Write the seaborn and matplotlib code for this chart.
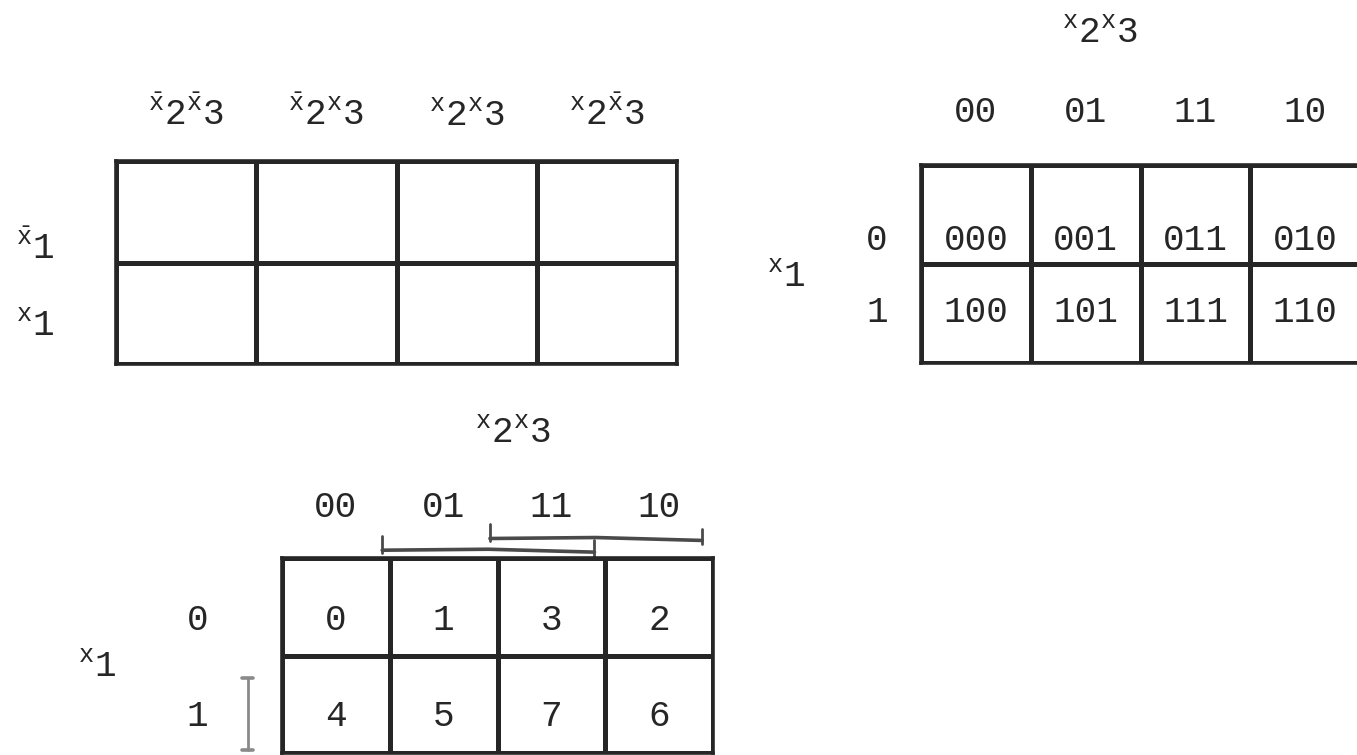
import numpy as np
import matplotlib
matplotlib.use("Agg")
import matplotlib.pyplot as plt
from matplotlib.colors import ListedColormap
import seaborn as sns

# --- data -------------------------------------------------------------
km1_cols = [r"$^{\bar{\mathrm{x}}}2^{\bar{\mathrm{x}}}3$",
            r"$^{\bar{\mathrm{x}}}2^{\mathrm{x}}3$",
            r"$^{\mathrm{x}}2^{\mathrm{x}}3$",
            r"$^{\mathrm{x}}2^{\bar{\mathrm{x}}}3$"]
km1_rows = [r"$^{\bar{\mathrm{x}}}1$", r"$^{\mathrm{x}}1$"]

gray_cols = ["00", "01", "11", "10"]
gray_rows = ["0", "1"]

km2_cells = [["000", "001", "011", "010"],
             ["100", "101", "111", "110"]]
km3_cells = [["0", "1", "3", "2"],
             ["4", "5", "7", "6"]]

# column groups marked over map 3 (x3: 01,11 / x2: 11,10) and row group (x1)
col_groups = [(1, 2), (2, 3)]
row_groups = [1]

var_cols = r"$^{\mathrm{x}}2^{\mathrm{x}}3$"
var_row = r"$^{\mathrm{x}}1$"

# --- style ------------------------------------------------------------
W, H = 1357, 755
ink = "#262626"
sns.set_theme(style="white")
plt.rcParams["font.family"] = ["Liberation Mono", "DejaVu Sans"]
plt.rcParams["mathtext.fontset"] = "custom"
plt.rcParams["mathtext.rm"] = "Liberation Mono"
plt.rcParams["mathtext.it"] = "Liberation Mono"
plt.rcParams["mathtext.bf"] = "Liberation Mono:bold"
plt.rcParams["mathtext.default"] = "rm"
fs = 26

fig = plt.figure(figsize=(W / 100, H / 100), dpi=100)
fig.patch.set_facecolor("white")


def px_axes(x0, y0, x1, y1):
    return fig.add_axes([x0 / W, 1 - y1 / H, (x1 - x0) / W, (y1 - y0) / H])


def kmap(ax, cols, rows, ypos, xpad, ypad):
    blank = np.zeros((len(rows), len(cols)))
    sns.heatmap(blank, cmap=ListedColormap(["white"]), cbar=False,
                linewidths=2.2, linecolor=ink, xticklabels=cols,
                yticklabels=rows, ax=ax)
    ax.xaxis.tick_top()
    ax.set_yticks(ypos)
    ax.set_yticklabels(rows, rotation=0)
    ax.tick_params(axis="x", length=0, pad=xpad, labelsize=fs, colors=ink)
    ax.tick_params(axis="y", length=0, pad=ypad, labelsize=fs, colors=ink)
    for sp in ax.spines.values():
        sp.set_visible(True)
        sp.set_linewidth(2.6)
        sp.set_color(ink)


# map 1: literal labels
ax1 = px_axes(116, 161, 677, 364)
kmap(ax1, km1_cols, km1_rows, [0.86, 1.62], 20, 44)

# map 2: binary codes
ax2 = px_axes(921, 165, 1360, 363)
pos2 = [0.76, 1.49]
kmap(ax2, gray_cols, gray_rows, pos2, 25, 24)
for i, row in enumerate(km2_cells):
    for j, s in enumerate(row):
        ax2.text(j + 0.5, pos2[i], s, ha="center", va="center",
                 fontsize=fs, color=ink)

# map 3: decimal minterms
ax3 = px_axes(282, 558, 713, 753)
pos3 = [0.64, 1.63]
kmap(ax3, gray_cols, gray_rows, pos3, 24, 53)
for i, row in enumerate(km3_cells):
    for j, s in enumerate(row):
        ax3.text(j + 0.5, pos3[i], s, ha="center", va="center",
                 fontsize=fs, color=ink)

# hand drawn group brackets
lift = [-0.08, -0.2]
for k, (c0, c1) in enumerate(col_groups):
    xa, xb = c0 - 0.07, c1 + 0.9
    y = lift[k]
    ax3.plot([xa, (xa + xb) / 2, xb], [y, y - 0.01, y + 0.02],
             color="#4a4a4a", lw=2.6, clip_on=False)
    ax3.plot([xa, xa], [y - 0.15, y + 0.03], color="#4a4a4a", lw=2, clip_on=False)
    ax3.plot([xb, xb], [y - 0.1, y + 0.06], color="#4a4a4a", lw=2, clip_on=False)
for r in row_groups:
    ax3.plot([-0.32, -0.32], [r + 0.23, r + 0.97], color="#8a8a8a", lw=2,
             clip_on=False)
    for yy in (r + 0.23, r + 0.97):
        ax3.plot([-0.37, -0.27], [yy, yy], color="#8a8a8a", lw=2.6,
                 clip_on=False)

# variable names
fig.text(1100 / W, 1 - 33 / H, var_cols, ha="center", va="center",
         fontsize=fs, color=ink)
fig.text(513 / W, 1 - 433 / H, var_cols, ha="center", va="center",
         fontsize=fs, color=ink)
fig.text(786 / W, 1 - 276 / H, var_row, ha="center", va="center",
         fontsize=fs, color=ink)
fig.text(97 / W, 1 - 667 / H, var_row, ha="center", va="center",
         fontsize=fs, color=ink)

fig.savefig("out.png", dpi=100, facecolor="white")
